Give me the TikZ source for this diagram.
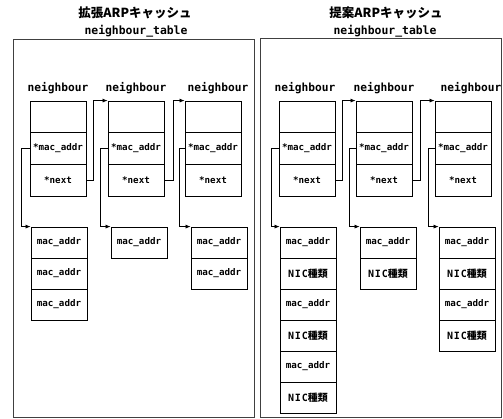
\documentclass[tikz,border=0pt]{standalone}
\usepackage{fontspec}
\setmonofont{DejaVu Sans Mono}
\newfontfamily\cjk{Noto Sans CJK JP}
\usetikzlibrary{arrows.meta}
\newcommand{\nicK}{{\fontsize{10}{10}\selectfont N\kern0.8pt I\kern0.8pt C{\cjk\bfseries 種類}}}
\begin{document}
\begin{tikzpicture}[x=1pt,y=-1pt,
  panel/.style={draw=black!75,line width=0.8pt},
  cell/.style={draw,line width=0.8pt,minimum width=56pt,minimum height=31.67pt,inner sep=0pt,font=\ttfamily\bfseries\fontsize{9.2}{10}\selectfont},
  lcell/.style={cell,minimum height=31pt},
  nblabel/.style={font=\ttfamily\bfseries\fontsize{11.2}{12}\selectfont,inner sep=0pt},
  jtitle/.style={font=\cjk\bfseries\fontsize{12.5}{13}\selectfont,inner sep=0pt},
  ttitle/.style={font=\ttfamily\bfseries\fontsize{11.4}{12}\selectfont,inner sep=0pt},
  link/.style={line width=0.7pt,-{Latex[length=5pt,width=4pt]}}
]
\useasboundingbox (0,0) rectangle (503,419);
% panels
\draw[panel] (13,39) rectangle (254,417);
\draw[panel] (260,38) rectangle (501.5,417);
% titles
\node[jtitle] (tl1) at (135,13) {拡張ARPキャッシュ};
\node[ttitle] (tl2) at (136,31) {neighbour\_table};
\node[jtitle] (tr1) at (386,13) {提案ARPキャッシュ};
\node[ttitle] (tr2) at (385,31) {neighbour\_table};
% neighbour labels
\node[nblabel] (nbA) at (58,88) {neighbour};
\node[nblabel] (nbB) at (136,88) {neighbour};
\node[nblabel] (nbC) at (218,88) {neighbour};
\node[nblabel] (nbD) at (305,88) {neighbour};
\node[nblabel] (nbE) at (384,88) {neighbour};
\node[nblabel] (nbF) at (471,88) {neighbour};
% neighbour boxes
\foreach \n/\x in {A/58,B/136,C/213,D/307,E/384,F/463}{
  \node[cell] (\n a) at (\x,116.8) {};
  \node[cell] (\n m) at (\x,148.5) {*mac\_addr};
  \node[cell] (\n n) at (\x,180.2) {*next};
}
% lists, left panel
\node[lcell] (LA1) at (59,242.5) {mac\_addr};
\node[lcell] (LA2) at (59,273.5) {mac\_addr};
\node[lcell] (LA3) at (59,304.5) {mac\_addr};
\node[lcell] (LB1) at (139,242.5) {mac\_addr};
\node[lcell] (LC1) at (219,242.5) {mac\_addr};
\node[lcell] (LC2) at (219,273.5) {mac\_addr};
% lists, right panel
\node[lcell] (LD1) at (308,242.5) {mac\_addr};
\node[lcell] (LD2) at (308,273.5) {\nicK};
\node[lcell] (LD3) at (308,304.5) {mac\_addr};
\node[lcell] (LD4) at (308,335.5) {\nicK};
\node[lcell] (LD5) at (308,366.5) {mac\_addr};
\node[lcell] (LD6) at (308,397.5) {\nicK};
\node[lcell] (LE1) at (388,242.5) {mac\_addr};
\node[lcell] (LE2) at (388,273.5) {\nicK};
\node[lcell] (LF1) at (467,242.5) {mac\_addr};
\node[lcell] (LF2) at (467,273.5) {\nicK};
\node[lcell] (LF3) at (467,304.5) {mac\_addr};
\node[lcell] (LF4) at (467,335.5) {\nicK};
% next links
\draw[link] (An.east) -- ++(7,0) |- (Ba.north west);
\draw[link] (Bn.east) -- ++(9,0) |- (Ca.north west);
\draw[link] (Dn.east) -- ++(7,0) |- (Ea.north west);
\draw[link] (En.east) -- ++(8,0) |- (Fa.north west);
% mac links
\draw[link] (Am.west) -- ++(-8,0) |- (LA1.north west);
\draw[link] (Bm.west) -- ++(-7,0) |- (LB1.north west);
\draw[link] (Cm.west) -- ++(-5,0) |- (LC1.north west);
\draw[link] (Dm.west) -- ++(-7,0) |- (LD1.north west);
\draw[link] (Em.west) -- ++(-6,0) |- (LE1.north west);
\draw[link] (Fm.west) -- ++(-6,0) |- (LF1.north west);
\end{tikzpicture}
\end{document}
